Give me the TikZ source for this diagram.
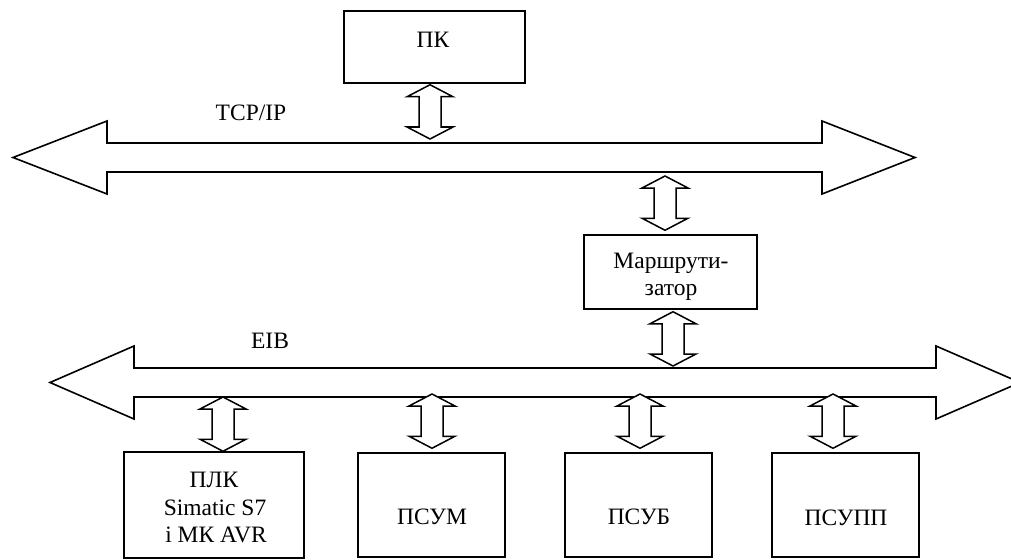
\documentclass[tikz,border=0pt]{standalone}
\usepackage{fontspec}
\setmainfont{Liberation Serif}
\usetikzlibrary{calc}
\tikzset{
  box/.style={draw, line width=1.5pt, inner sep=0pt, fill=white},
  lbl/.style={anchor=base, inner sep=0pt, font=\fontsize{23.5}{27}\selectfont},
  bus/.style={draw, line width=1.6pt, line join=miter, fill=white},
  conn/.style={draw, line width=1.5pt, line join=miter, fill=white}
}
% vertical double arrow: #1 = x, #2 top node anchor, #3 bottom node anchor, #4 top gap, #5 bottom gap
\newcommand\vconn[5]{%
  \path[conn] let \p1=(#2), \p2=(#3), \n1={#1pt}, \n2={\y1-#4pt}, \n3={\y2+#5pt} in
    (\n1,\n2) -- (\n1+23pt,\n2-12pt) -- (\n1+11pt,\n2-12pt) -- (\n1+11pt,\n3+12pt)
    -- (\n1+23pt,\n3+12pt) -- (\n1,\n3) -- (\n1-23pt,\n3+12pt) -- (\n1-11pt,\n3+12pt)
    -- (\n1-11pt,\n2-12pt) -- (\n1-23pt,\n2-12pt) -- cycle;}
\begin{document}
\begin{tikzpicture}[x=1pt,y=-1pt]
\useasboundingbox (0,0) rectangle (1011,559);
\clip (0,0) rectangle (1011,559);

% buses
\coordinate (tcpT) at (0,143);
\coordinate (tcpB) at (0,172);
\coordinate (eibT) at (0,368);
\coordinate (eibB) at (0,397);
\path[bus] (13,157.5) -- (107,121) -- (107,143) -- (822,143) -- (822,121) -- (915,157.5)
  -- (822,194) -- (822,172) -- (107,172) -- (107,194) -- cycle;
\path[bus] (50,382.5) -- (134,346) -- (134,368) -- (936,368) -- (936,346) -- (1020,382.5)
  -- (936,419) -- (936,397) -- (134,397) -- (134,419) -- cycle;

% boxes
\node[box, minimum width=181pt, minimum height=72pt] (pk) at (434.5,47) {};
\node[box, minimum width=173pt, minimum height=74pt] (router) at (670.5,272) {};
\node[box, minimum width=180pt, minimum height=106pt] (plc) at (214,505) {};
\node[box, minimum width=147pt, minimum height=104pt] (psum) at (431.5,505) {};
\node[box, minimum width=147pt, minimum height=104pt] (psub) at (638.5,505) {};
\node[box, minimum width=147pt, minimum height=104pt] (psupp) at (845.5,505) {};

% texts
\node[lbl] (tpk) at (433,48) {ПК};
\node[lbl] (ttcp) at (251,121) {TCP/IP};
\node[lbl] (tr1) at (671,268) {Маршрути-};
\node[lbl] (tr2) at (671,295) {затор};
\node[lbl] (teib) at (270,348) {EIB};
\node[lbl] (tp1) at (214,487) {ПЛК};
\node[lbl] (tp2) at (215,515) {Simatic S7};
\node[lbl] (tp3) at (216,542) {і МК AVR};
\node[lbl] (tsum) at (432,524) {ПСУМ};
\node[lbl] (tsub) at (639,524) {ПСУБ};
\node[lbl] (tsupp) at (846,525) {ПСУПП};

% connectors
\vconn{430}{pk.south}{tcpT}{1}{4}
\vconn{665}{tcpB}{router.north}{4}{4}
\vconn{673}{router.south}{eibT}{2}{2}
\vconn{223}{eibB}{plc.north}{0}{0}
\vconn{432}{eibB}{psum.north}{-3}{4}
\vconn{640}{eibB}{psub.north}{-3}{4}
\vconn{833}{eibB}{psupp.north}{-3}{4}
\end{tikzpicture}
\end{document}
